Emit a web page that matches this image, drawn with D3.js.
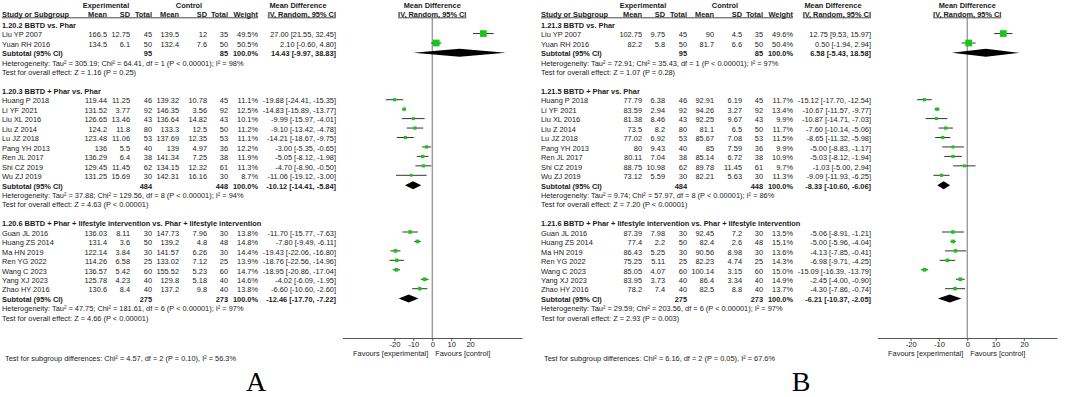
<!DOCTYPE html>
<html>
<head>
<meta charset="utf-8">
<script src="https://cdn.jsdelivr.net/npm/d3@7"></script>
<style>
body { margin: 0; background: #fff; }
svg text { font-family: "Liberation Sans", Arial, sans-serif; font-size: 7.4px; fill: #1a1a1a; }
</style>
</head>
<body>
<div id="container"></div>
<script>
// ---- data ----
const studyNames = [
    ["Liu YP 2007", "Yuan RH 2016"],
    ["Huang P 2018", "Li YF 2021", "Liu XL 2016", "Liu Z 2014", "Lu JZ 2018", "Pang YH 2013", "Ren JL 2017", "Shi CZ 2019", "Wu ZJ 2019"],
    ["Guan JL 2016", "Huang ZS 2014", "Ma HN 2019", "Ren YG 2022", "Wang C 2023", "Yang XJ 2023", "Zhao HY 2016"]
];
const axisTicks = [-20, -10, 0, 10, 20];

// panel A
const groupTitlesA = ["1.20.2 BBTD vs. Phar", "1.20.3 BBTD + Phar vs. Phar",
    "1.20.6 BBTD + Phar + lifestyle intervention vs. Phar + lifestyle intervention"];
const expMeanA = ["166.5", "134.5", "119.44", "131.52", "126.65", "124.2", "123.48", "136", "136.29", "129.45", "131.25",
    "136.03", "131.4", "122.14", "114.26", "136.57", "125.78", "130.6"];
const expSdA = ["12.75", "6.1", "11.25", "3.77", "13.46", "11.8", "11.06", "5.5", "6.4", "11.45", "15.69",
    "8.11", "3.6", "3.84", "6.58", "5.42", "4.23", "8.4"];
const expNA = [45, 50, 46, 92, 43, 80, 53, 40, 38, 62, 30, 30, 50, 30, 25, 60, 40, 40];
const ctlMeanA = ["139.5", "132.4", "139.32", "146.35", "136.64", "133.3", "137.69", "139", "141.34", "134.15", "142.31",
    "147.73", "139.2", "141.57", "133.02", "155.52", "129.8", "137.2"];
const ctlSdA = ["12", "7.6", "10.78", "3.56", "14.82", "12.5", "12.35", "4.97", "7.25", "12.32", "16.16",
    "7.96", "4.8", "6.26", "7.12", "5.23", "5.18", "9.8"];
const ctlNA = [35, 50, 45, 92, 43, 50, 53, 36, 38, 61, 30, 30, 48, 30, 25, 60, 40, 40];
const weightA = [49.5, 50.5, 11.1, 12.5, 10.1, 11.2, 11.1, 12.2, 11.9, 11.3, 8.7, 13.8, 14.8, 14.4, 13.9, 14.7, 14.6, 13.8];
const mdA = [27.00, 2.10, -19.88, -14.83, -9.99, -9.10, -14.21, -3.00, -5.05, -4.70, -11.06,
    -11.70, -7.80, -19.43, -18.76, -18.95, -4.02, -6.60];
const loA = [21.55, -0.60, -24.41, -15.89, -15.97, -13.42, -18.67, -5.35, -8.12, -8.90, -19.12,
    -15.77, -9.49, -22.06, -22.56, -20.86, -6.09, -10.60];
const hiA = [32.45, 4.80, -15.35, -13.77, -4.01, -4.78, -9.75, -0.65, -1.98, -0.50, -3.00,
    -7.63, -6.11, -16.80, -14.96, -17.04, -1.95, -2.60];
const subExpNA = [95, 484, 275];
const subCtlNA = [85, 448, 273];
const subMdA = [14.43, -10.12, -12.46];
const subLoA = [-9.97, -14.41, -17.70];
const subHiA = [38.83, -5.84, -7.22];
const hetA = ["Heterogeneity: Tau² = 305.19; Chi² = 64.41, df = 1 (P < 0.00001); I² = 98%",
    "Heterogeneity: Tau² = 37.88; Chi² = 129.56, df = 8 (P < 0.00001); I² = 94%",
    "Heterogeneity: Tau² = 47.75; Chi² = 181.61, df = 6 (P < 0.00001); I² = 97%"];
const effectA = ["Test for overall effect: Z = 1.16 (P = 0.25)",
    "Test for overall effect: Z = 4.63 (P < 0.00001)",
    "Test for overall effect: Z = 4.66 (P < 0.00001)"];
const subgroupTestA = "Test for subgroup differences: Chi² = 4.57, df = 2 (P = 0.10), I² = 56.3%";

// panel B
const groupTitlesB = ["1.21.3 BBTD vs. Phar", "1.21.5 BBTD + Phar vs. Phar",
    "1.21.6 BBTD + Phar + lifestyle intervention vs. Phar + lifestyle intervention"];
const expMeanB = ["102.75", "82.2", "77.79", "83.59", "81.38", "73.5", "77.02", "80", "80.11", "88.75", "73.12",
    "87.39", "77.4", "86.43", "75.25", "85.05", "83.95", "78.2"];
const expSdB = ["9.75", "5.8", "6.38", "2.94", "8.46", "8.2", "6.92", "9.43", "7.04", "10.98", "5.59",
    "7.98", "2.2", "5.25", "5.11", "4.07", "3.73", "7.4"];
const expNB = [45, 50, 46, 92, 43, 80, 53, 40, 38, 62, 30, 30, 50, 30, 25, 60, 40, 40];
const ctlMeanB = ["90", "81.7", "92.91", "94.26", "92.25", "81.1", "85.67", "85", "85.14", "89.78", "82.21",
    "92.45", "82.4", "90.56", "82.23", "100.14", "86.4", "82.5"];
const ctlSdB = ["4.5", "6.6", "6.19", "3.27", "9.67", "6.5", "7.08", "7.59", "6.72", "11.45", "5.63",
    "7.2", "2.6", "8.98", "4.74", "3.15", "3.34", "8.8"];
const ctlNB = [35, 50, 45, 92, 43, 50, 53, 36, 38, 61, 30, 30, 48, 30, 25, 60, 40, 40];
const weightB = [49.6, 50.4, 11.7, 13.4, 9.9, 11.7, 11.5, 9.9, 10.9, 9.7, 11.3, 13.5, 15.1, 13.6, 14.3, 15.0, 14.9, 13.7];
const mdB = [12.75, 0.50, -15.12, -10.67, -10.87, -7.60, -8.65, -5.00, -5.03, -1.03, -9.09,
    -5.06, -5.00, -4.13, -6.98, -15.09, -2.45, -4.30];
const loB = [9.53, -1.94, -17.70, -11.57, -14.71, -10.14, -11.32, -8.83, -8.12, -5.00, -11.93,
    -8.91, -5.96, -7.85, -9.71, -16.39, -4.00, -7.86];
const hiB = [15.97, 2.94, -12.54, -9.77, -7.03, -5.06, -5.98, -1.17, -1.94, 2.94, -6.25,
    -1.21, -4.04, -0.41, -4.25, -13.79, -0.90, -0.74];
const subExpNB = [95, 484, 275];
const subCtlNB = [85, 448, 273];
const subMdB = [6.58, -8.33, -6.21];
const subLoB = [-5.43, -10.60, -10.37];
const subHiB = [18.58, -6.06, -2.05];
const hetB = ["Heterogeneity: Tau² = 72.91; Chi² = 35.43, df = 1 (P < 0.00001); I² = 97%",
    "Heterogeneity: Tau² = 9.74; Chi² = 57.97, df = 8 (P < 0.00001); I² = 86%",
    "Heterogeneity: Tau² = 29.59; Chi² = 203.56, df = 6 (P < 0.00001); I² = 97%"];
const effectB = ["Test for overall effect: Z = 1.07 (P = 0.28)",
    "Test for overall effect: Z = 7.20 (P < 0.00001)",
    "Test for overall effect: Z = 2.93 (P = 0.003)"];
const subgroupTestB = "Test for subgroup differences: Chi² = 6.16, df = 2 (P = 0.05), I² = 67.6%";

// ---- layout ----
const rowH = 9.45, row0 = 25.3;
const axisY = 338;
const col = { expMean: 107, expSd: 130, expN: 152, ctlMean: 179, ctlSd: 207, ctlN: 228, weight: 258, md: 336 };

const svg = d3.select("#container")
    .append("svg")
    .attr("width", 1065)
    .attr("height", 397);

function txt(g, x, y, s, anchor = "start", bold = false) {
    return g.append("text")
        .attr("x", x)
        .attr("y", y)
        .attr("dy", "0.35em")
        .attr("text-anchor", anchor)
        .attr("font-weight", bold ? "bold" : null)
        .text(s);
}

function ci(lo, hi) {
    return `${lo.toFixed(2)}, ${hi.toFixed(2)}`;
}

function drawPanel(p) {
    const g = svg.append("g").attr("transform", `translate(${p.ox}, 0)`);
    const x = d3.scaleLinear().domain(p.domain).range([342.5, 522]);

    // header
    txt(g, p.expHeadX, 5, "Experimental", "middle", true);
    txt(g, p.ctlHeadX, 5, "Control", "middle", true);
    txt(g, 298, 5, "Mean Difference", "middle", true);
    txt(g, x(0), 5, "Mean Difference", "middle", true);
    txt(g, p.studyX, 14.3, "Study or Subgroup", "start", true);
    txt(g, col.expMean, 14.3, "Mean", "end", true);
    txt(g, col.expSd, 14.3, "SD", "end", true);
    txt(g, col.expN, 14.3, "Total", "end", true);
    txt(g, col.ctlMean, 14.3, "Mean", "end", true);
    txt(g, col.ctlSd, 14.3, "SD", "end", true);
    txt(g, col.ctlN, 14.3, "Total", "end", true);
    txt(g, col.weight, 14.3, "Weight", "end", true);
    const iv1 = txt(g, col.md, 14.3, "IV, Random, 95% CI", "end", true).node().getBBox();
    const iv2 = txt(g, x(0), 14.3, "IV, Random, 95% CI", "middle", true).node().getBBox();
    const ul = [[p.studyX, col.weight], [iv1.x, iv1.x + iv1.width], [iv2.x, iv2.x + iv2.width]];
    ul.forEach(u => {
        g.append("line")
            .attr("x1", u[0]).attr("x2", u[1])
            .attr("y1", 17.8).attr("y2", 17.8)
            .attr("stroke", "#1a1a1a").attr("stroke-width", 0.8);
    });

    // zero line
    g.append("line")
        .attr("x1", x(0)).attr("x2", x(0))
        .attr("y1", 18).attr("y2", axisY)
        .attr("stroke", "#8a8a8a").attr("stroke-width", 1.2);

    let r = 0, k = 0;
    const yr = i => row0 + i * rowH;
    p.titles.forEach((title, gi) => {
        txt(g, p.studyX, yr(r), title, "start", true);
        r++;
        studyNames[gi].forEach(name => {
            const y = yr(r);
            txt(g, p.studyX, y, name);
            txt(g, col.expMean, y, p.expMean[k], "end");
            txt(g, col.expSd, y, p.expSd[k], "end");
            txt(g, col.expN, y, p.expN[k], "end");
            txt(g, col.ctlMean, y, p.ctlMean[k], "end");
            txt(g, col.ctlSd, y, p.ctlSd[k], "end");
            txt(g, col.ctlN, y, p.ctlN[k], "end");
            txt(g, col.weight, y, p.weight[k].toFixed(1) + "%", "end");
            txt(g, col.md, y, `${p.md[k].toFixed(2)} [${ci(p.lo[k], p.hi[k])}]`, "end");

            const yc = y - 1.2;
            g.append("line")
                .attr("x1", x(p.lo[k])).attr("x2", x(p.hi[k]))
                .attr("y1", yc).attr("y2", yc)
                .attr("stroke", "#333").attr("stroke-width", 1);
            const s = Math.sqrt(p.weight[k]) * 0.95;
            g.append("rect")
                .attr("x", x(p.md[k]) - s / 2)
                .attr("y", yc - s / 2)
                .attr("width", s).attr("height", s)
                .attr("fill", "#14c814");
            k++;
            r++;
        });
        // subtotal
        const y = yr(r);
        txt(g, p.studyX, y, "Subtotal (95% CI)", "start", true);
        txt(g, col.expN, y, p.subExpN[gi], "end", true);
        txt(g, col.ctlN, y, p.subCtlN[gi], "end", true);
        txt(g, col.weight, y, "100.0%", "end", true);
        txt(g, col.md, y, `${p.subMd[gi].toFixed(2)} [${ci(p.subLo[gi], p.subHi[gi])}]`, "end", true);
        const yc = y - 0.8, hh = 4;
        g.append("path")
            .attr("d", `M${x(p.subLo[gi])},${yc} L${x(p.subMd[gi])},${yc - hh} L${x(p.subHi[gi])},${yc} L${x(p.subMd[gi])},${yc + hh} Z`)
            .attr("fill", "#000");
        r++;
        txt(g, p.studyX, yr(r), p.het[gi]);
        r++;
        txt(g, p.studyX, yr(r), p.effect[gi]);
        r += 2;
    });

    txt(g, p.studyX + 3, 358.5, p.subgroupTest);

    // axis
    const ax = g.append("g")
        .attr("transform", `translate(0, ${axisY})`)
        .call(d3.axisBottom(x).tickValues(axisTicks).tickSize(3).tickSizeOuter(0).tickPadding(1)
            .tickFormat(d => String(d)));
    ax.select(".domain").attr("stroke", "#555");
    ax.selectAll(".tick line").attr("stroke", "#555");
    ax.selectAll("text").attr("font-size", null).attr("fill", "#1a1a1a").style("font-size", "7.6px");
    ax.attr("font-family", null).attr("font-size", null);

    txt(g, x(0) - 4, 353.5, "Favours [experimental]", "end");
    txt(g, x(0) + 3, 353.5, "Favours [control]", "start");

    g.append("text")
        .attr("x", p.letterX)
        .attr("y", 391)
        .attr("text-anchor", "middle")
        .style("font-family", "'Liberation Serif', 'Times New Roman', serif")
        .style("font-size", "28px")
        .style("fill", "#000")
        .text(p.letter);
}

drawPanel({
    ox: 0, studyX: 2, expHeadX: 106, ctlHeadX: 189, domain: [-47.4, 47.4], letter: "A", letterX: 256,
    titles: groupTitlesA, expMean: expMeanA, expSd: expSdA, expN: expNA, ctlMean: ctlMeanA, ctlSd: ctlSdA,
    ctlN: ctlNA, weight: weightA, md: mdA, lo: loA, hi: hiA, subExpN: subExpNA, subCtlN: subCtlNA,
    subMd: subMdA, subLo: subLoA, subHi: subHiA, het: hetA, effect: effectA, subgroupTest: subgroupTestA
});
drawPanel({
    ox: 535, studyX: 6, expHeadX: 108, ctlHeadX: 190, domain: [-31.7, 31.7], letter: "B", letterX: 266,
    titles: groupTitlesB, expMean: expMeanB, expSd: expSdB, expN: expNB, ctlMean: ctlMeanB, ctlSd: ctlSdB,
    ctlN: ctlNB, weight: weightB, md: mdB, lo: loB, hi: hiB, subExpN: subExpNB, subCtlN: subCtlNB,
    subMd: subMdB, subLo: subLoB, subHi: subHiB, het: hetB, effect: effectB, subgroupTest: subgroupTestB
});
</script>
</body>
</html>
